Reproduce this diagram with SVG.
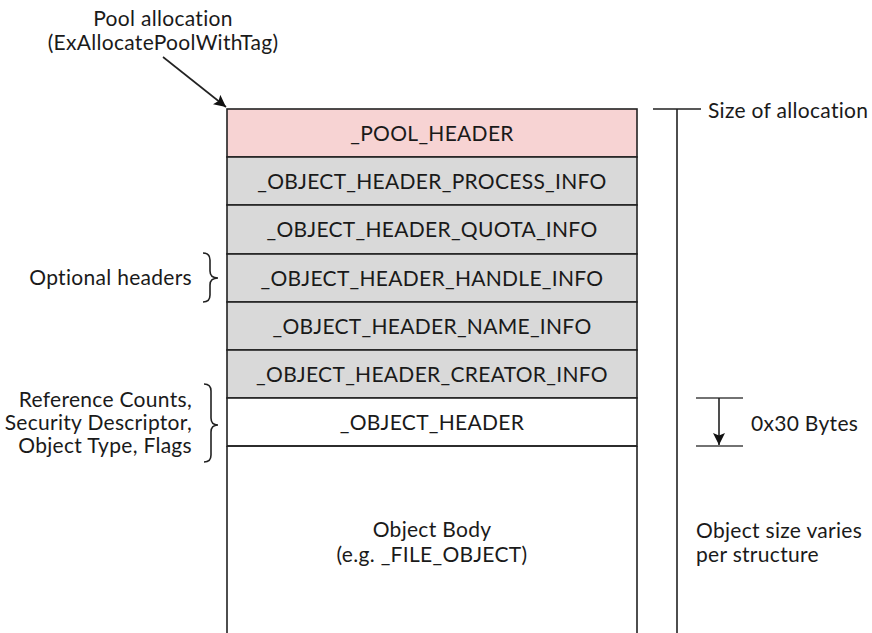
<svg xmlns="http://www.w3.org/2000/svg" width="872" height="633" viewBox="0 0 872 633">
<style>
text{font-family:Lato,"Open Sans","Liberation Sans",sans-serif;font-size:21px;letter-spacing:0.3px;fill:#1a1a1a}
.c{text-anchor:middle}
.r{text-anchor:end}
.row{stroke:#222;stroke-width:1.6}
.pink{fill:#f7d3d3}
.gray{fill:#d9d9d9}
.white{fill:#fff}
.ln{stroke:#222;stroke-width:1.6;fill:none}
.tick{stroke:#444;stroke-width:1.6;fill:none}
</style>
<defs>
<marker id="ah2" viewBox="0 0 10 10" refX="10" refY="5" markerWidth="12" markerHeight="12" markerUnits="userSpaceOnUse" orient="auto">
<path d="M0,0 L10,5 L0,10 L2,5 Z" fill="#111"/>
</marker>
</defs>
<g id="pool_header"><rect x="227" y="109" width="410" height="48" class="pink row"/><text x="432" y="140.5" class="c">_POOL_HEADER</text></g>
<g id="process_info"><rect x="227" y="157" width="410" height="48" class="gray row"/><text x="432" y="188.5" class="c">_OBJECT_HEADER_PROCESS_INFO</text></g>
<g id="quota_info"><rect x="227" y="205" width="410" height="49" class="gray row"/><text x="432" y="237" class="c">_OBJECT_HEADER_QUOTA_INFO</text></g>
<g id="handle_info"><rect x="227" y="254" width="410" height="48" class="gray row"/><text x="432" y="285.5" class="c">_OBJECT_HEADER_HANDLE_INFO</text></g>
<g id="name_info"><rect x="227" y="302" width="410" height="48" class="gray row"/><text x="432" y="333.5" class="c">_OBJECT_HEADER_NAME_INFO</text></g>
<g id="creator_info"><rect x="227" y="350" width="410" height="48" class="gray row"/><text x="432" y="381.5" class="c">_OBJECT_HEADER_CREATOR_INFO</text></g>
<g id="object_header"><rect x="227" y="398" width="410" height="48" class="white row"/><text x="432" y="429.5" class="c">_OBJECT_HEADER</text></g>
<g id="object_body"><path d="M227,446 L637,446 M227,446 L227,633 M637,446 L637,633" class="ln"/><text x="432" y="537" class="c">Object Body</text><text x="432" y="562" class="c">(e.g. _FILE_OBJECT)</text></g>
<g id="pool_alloc_label"><text x="163" y="26" class="c">Pool allocation</text><text x="163" y="50" class="c">(ExAllocatePoolWithTag)</text></g>
<g id="optional_label"><text x="192" y="285" class="r">Optional headers</text><path d="M203,253 Q210,253 210,260 L210,271 Q210,278 218,278 Q210,278 210,285 L210,295 Q210,302 203,302" class="ln"/></g>
<g id="refcount_label"><text x="192" y="407" class="r">Reference Counts,</text><text x="192" y="430" class="r">Security Descriptor,</text><text x="192" y="453" class="r">Object Type, Flags</text><path d="M204,384 Q211,384 211,391 L211,418 Q211,425 218,425 Q211,425 211,432 L211,455 Q211,462 204,462" class="ln"/></g>
<g id="size_label"><text x="708" y="118">Size of allocation</text><text x="696" y="538">Object size varies</text><text x="696" y="562">per structure</text></g>
<g id="bytes_label"><text x="751" y="431">0x30 Bytes</text></g>
<g id="connectors">
<path d="M163,57 L226,107" class="ln" marker-end="url(#ah2)"/>
<path d="M653,109 L701,109 M677,109 L677,633" class="ln"/>
<path d="M696,398 L743,398 M696,446 L743,446" class="tick"/>
<path d="M719,398 L719,445" class="ln" marker-end="url(#ah2)"/>
</g>
</svg>
